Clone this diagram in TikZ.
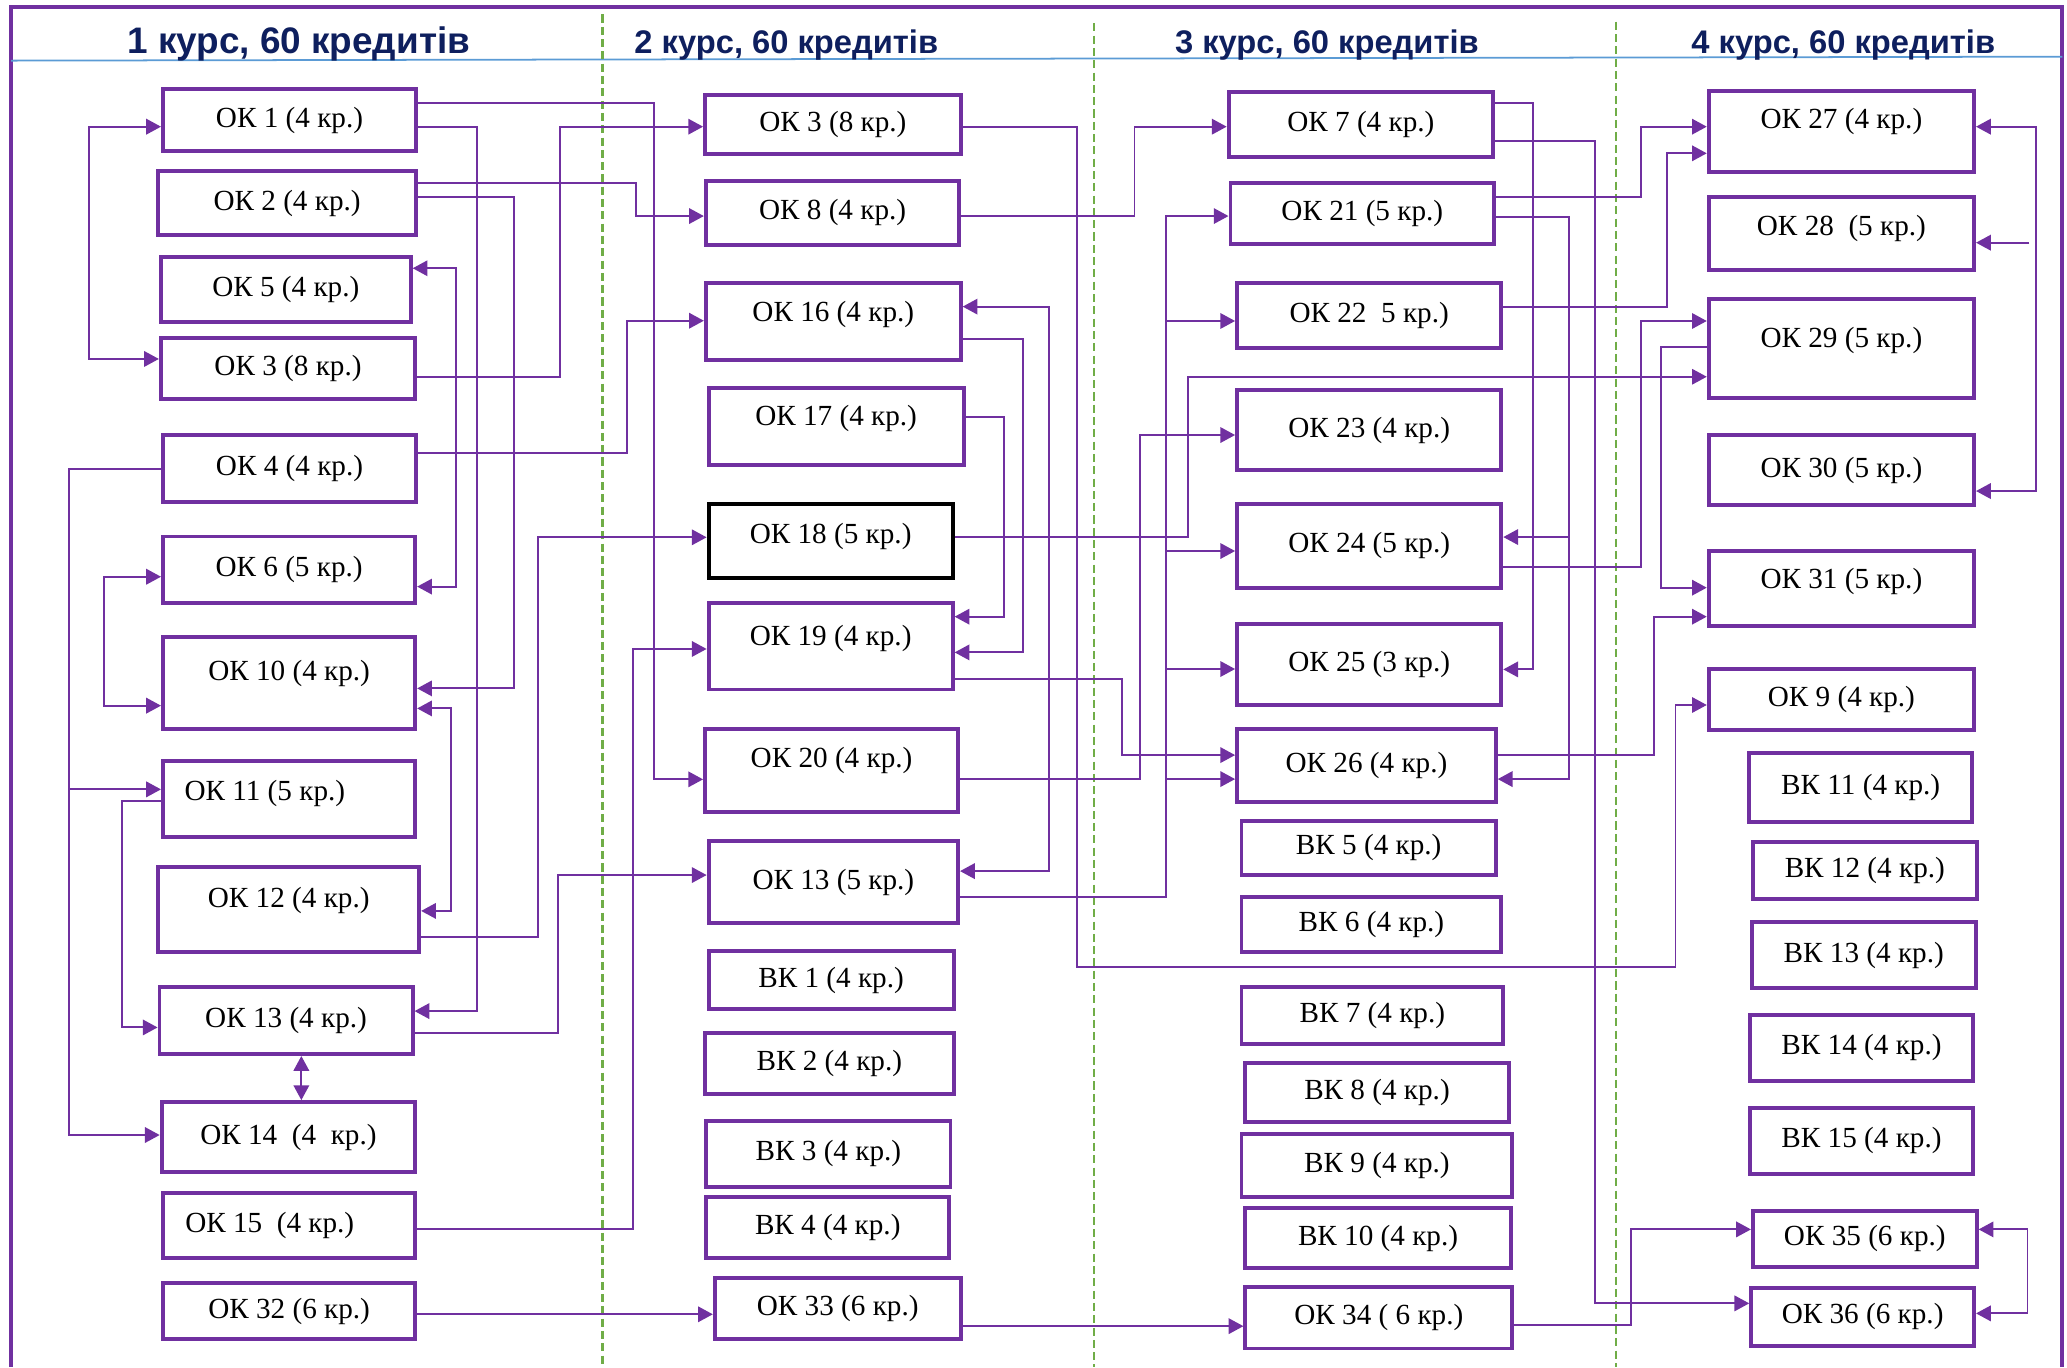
\documentclass[tikz,border=0pt]{standalone}
\usepackage{fontspec}
\setmainfont{Liberation Serif}
\newfontfamily\hdfont{Liberation Sans}
\usepackage{tikz}
\usetikzlibrary{arrows.meta,fit}
\definecolor{purplex}{HTML}{7030A0}
\definecolor{navyx}{HTML}{0E1F5E}
\definecolor{greenx}{HTML}{70AD47}
\definecolor{bluex}{HTML}{5B9BD5}
\tikzset{
  ar/.style={-{Triangle[length=4.2pt,width=4.4pt]},purplex,line width=0.55pt},
  br/.style={{Triangle[length=4.2pt,width=4.4pt]}-{Triangle[length=4.2pt,width=4.4pt]},purplex,line width=0.55pt},
  box/.style={draw=purplex,line width=1.1pt,inner sep=0pt},
  lbl/.style={label={center:#1}},
  every label/.style={font=\fontsize{8.3}{10}\selectfont,inner sep=0pt,text=black},
  hd/.style={anchor=base,text=navyx,font=\hdfont\bfseries\fontsize{9.3}{11}\selectfont},
  yr/.style={greenx,line width=0.6pt,dash pattern=on 2.3pt off 1.2pt}
}
\newcommand{\up}[2]{\raisebox{#1}[\height][\depth]{#2}}
\newcommand{\lf}[3]{\raisebox{#2}[\height][\depth]{\kern-#1#3\kern#1}}

\begin{document}
\begin{tikzpicture}[x=0.375pt,y=-0.375pt]
\useasboundingbox (0,0) rectangle (1568,1037);
% frame, header line, year separators
\draw[purplex,line width=1.1pt] (8.5,1037) -- (8.5,5.6) -- (1564.5,5.6) -- (1564.5,1037);
\draw[bluex,line width=0.5pt] (8.5,46) -- (1564.5,43);
\draw[yr] (457,11) -- (457,1037);
\draw[yr] (830,17.7) -- (830,1037);
\draw[yr] (1226,16.5) -- (1226,1037);
\node[hd,font=\hdfont\bfseries\fontsize{10.5}{12}\selectfont] (h1) at (226.6,40.5) {1 курс, 60 кредитів};
\node[hd] (h2) at (596.5,40.5) {2 курс, 60 кредитів};
\node[hd] (h3) at (1006.6,40.5) {3 курс, 60 кредитів};
\node[hd] (h4) at (1398.3,40.5) {4 курс, 60 кредитів};

% 1 курс
\node[box,fit={(123.6,67.8)(315.6,114.3)},lbl={ОК 1 (4 кр.)}] (ok1) {};
\node[box,fit={(120,129.5)(315.6,178.5)},lbl={ОК 2 (4 кр.)}] (ok2) {};
\node[box,fit={(122,195)(311.6,244)},lbl={ОК 5 (4 кр.)}] (ok5) {};
\node[box,fit={(122,256.7)(315,303)},lbl={ОК 3 (8 кр.)}] (ok3a) {};
\node[box,fit={(123.6,330)(315.6,380.6)},lbl={ОК 4 (4 кр.)}] (ok4) {};
\node[box,fit={(123.6,407)(315,457.7)},lbl={ОК 6 (5 кр.)}] (ok6) {};
\node[box,fit={(123.6,483)(315,553)},lbl={\up{2.6pt}{ОК 10 (4 кр.)}}] (ok10) {};
\node[box,fit={(123.6,577)(315,635)},lbl={\lf{6.9pt}{1.6pt}{ОК 11 (5 кр.)}}] (ok11) {};
\node[box,fit={(120,657.5)(318,722)},lbl={\up{2.6pt}{ОК 12 (4 кр.)}}] (ok12) {};
\node[box,fit={(121,749)(313,799.6)},lbl={ОК 13 (4 кр.)}] (ok13a) {};
\node[box,fit={(122.6,836)(315,889)},lbl={ОК 14~ (4~ кр.)}] (ok14) {};
\node[box,fit={(123.6,904.8)(315,954.6)},lbl={\lf{5.5pt}{0pt}{ОК 15~ (4 кр.)}}] (ok15) {};
\node[box,fit={(123.6,973)(315,1016)},lbl={ОК 32 (6 кр.)}] (ok32) {};

% 2 курс
\node[box,fit={(534.8,72)(728.8,116.8)},lbl={ОК 3 (8 кр.)}] (ok3b) {};
\node[box,fit={(535.4,137)(727.8,186)},lbl={ОК 8 (4 кр.)}] (ok8) {};
\node[box,fit={(535.4,215)(728.8,273)},lbl={\up{1.9pt}{ОК 16 (4 кр.)}}] (ok16) {};
\node[box,fit={(537.5,294.6)(731,352.7)},lbl={\up{2.3pt}{ОК 17 (4 кр.)}}] (ok17) {};
\node[box,draw=black,fit={(537.5,382.6)(722.7,438.2)},lbl={\up{1.3pt}{ОК 18 (5 кр.)}}] (ok18) {};
\node[box,fit={(537.5,457.2)(722.7,523)},lbl={\up{2.1pt}{ОК 19 (4 кр.)}}] (ok19) {};
\node[box,fit={(534.8,553.3)(726.8,615.8)},lbl={\up{3pt}{ОК 20 (4 кр.)}}] (ok20) {};
\node[box,fit={(537.5,638)(726.8,700.4)},lbl={ОК 13 (5 кр.)}] (ok13b) {};
\node[box,fit={(537.5,721.2)(723.4,765.7)},lbl={ВК 1 (4 кр.)}] (vk1) {};
\node[box,fit={(534.8,783.9)(723.4,830)},lbl={ВК 2 (4 кр.)}] (vk2) {};
\node[box,fit={(535.8,850.2)(721,900.2)},lbl={ВК 3 (4 кр.)}] (vk3) {};
\node[box,fit={(535.8,907.8)(720,954.6)},lbl={ВК 4 (4 кр.)}] (vk4) {};
\node[box,fit={(542.2,969.7)(728.8,1016)},lbl={ОК 33 (6 кр.)}] (ok33) {};

% 3 курс
\node[box,fit={(932,69.5)(1132.6,118.9)},lbl={ОК 7 (4 кр.)}] (ok7) {};
\node[box,fit={(933.4,138.6)(1133.4,185.3)},lbl={ОК 21 (5 кр.)}] (ok21) {};
\node[box,fit={(938.4,215)(1138.9,264.2)},lbl={ОК 22~ 5 кр.)}] (ok22) {};
\node[box,fit={(938.4,295.9)(1138.9,356.5)},lbl={ОК 23 (4 кр.)}] (ok23) {};
\node[box,fit={(938.4,382.3)(1138.9,445.8)},lbl={ОК 24 (5 кр.)}] (ok24) {};
\node[box,fit={(938.4,473.4)(1138.9,534.8)},lbl={ОК 25 (3 кр.)}] (ok25) {};
\node[box,fit={(938.4,553)(1134.7,608.2)},lbl={ОК 26 (4 кр.)}] (ok26) {};
\node[box,fit={(941.8,622.6)(1134.7,663.8)},lbl={ВК 5 (4 кр.)}] (vk5) {};
\node[box,fit={(941.8,680.2)(1138.9,722)},lbl={ВК 6 (4 кр.)}] (vk6) {};
\node[box,fit={(941.8,748.5)(1140.2,792)},lbl={ВК 7 (4 кр.)}] (vk7) {};
\node[box,fit={(944.7,806.2)(1144.4,850.9)},lbl={ВК 8 (4 кр.)}] (vk8) {};
\node[box,fit={(941.8,860.5)(1147.2,907.8)},lbl={ВК 9 (4 кр.)}] (vk9) {};
\node[box,fit={(944.7,916.6)(1146,962.2)},lbl={ВК 10 (4 кр.)}] (vk10) {};
\node[box,fit={(944.7,976)(1147.2,1022.9)},lbl={ОК 34 ( 6 кр.)}] (ok34) {};

% 4 курс
\node[box,fit={(1296.2,68.8)(1497.5,130.2)},lbl={\up{2.7pt}{ОК 27 (4 кр.)}}] (ok27) {};
\node[box,fit={(1296.2,149.2)(1497.5,204.8)},lbl={\up{1.5pt}{ОК 28~ (5 кр.)}}] (ok28) {};
\node[box,fit={(1296.2,227)(1497.5,302.2)},lbl={\up{2.5pt}{ОК 29 (5 кр.)}}] (ok29) {};
\node[box,fit={(1296.2,330)(1497.5,383.1)},lbl={ОК 30 (5 кр.)}] (ok30) {};
\node[box,fit={(1296.2,417.7)(1497.5,474.7)},lbl={\up{1.8pt}{ОК 31 (5 кр.)}}] (ok31) {};
\node[box,fit={(1296.2,507.5)(1497.5,553.8)},lbl={ОК 9 (4 кр.)}] (ok9) {};
\node[box,fit={(1326.8,571.5)(1496.2,623.3)},lbl={ВК 11 (4 кр.)}] (vk11) {};
\node[box,fit={(1329.7,639)(1499.5,682)},lbl={ВК 12 (4 кр.)}] (vk12) {};
\node[box,fit={(1328.9,699.7)(1498.7,749.7)},lbl={ВК 13 (4 кр.)}] (vk13) {};
\node[box,fit={(1327.6,770)(1496.6,819.8)},lbl={ВК 14 (4 кр.)}] (vk14) {};
\node[box,fit={(1327.6,840.3)(1496.6,890.6)},lbl={ВК 15 (4 кр.)}] (vk15) {};
\node[box,fit={(1329.7,918.4)(1499.5,961)},lbl={ОК 35 (6 кр.)}] (ok35) {};
\node[box,fit={(1328.4,976.8)(1497.5,1021)},lbl={ОК 36 (6 кр.)}] (ok36) {};

% branch points
\coordinate (b4) at (52.5,598.8);
\coordinate (b21) at (1190,407.4);
\coordinate (c22) at (884.6,243.5);
\coordinate (c24) at (884.6,418);
\coordinate (c25) at (884.6,507.5);
\coordinate (c26) at (884.6,591);
\coordinate (s28) at (1539.4,184.1);

% links from 1 курс
\draw[ar] (ok1.east|-0,77.9) -| (496,591.2) -- (ok20.west|-0,591.2);
\draw[ar] (ok1.east|-0,96.1) -| (361.7,767) -- (ok13a.east|-0,767);
\draw[br] (ok1.west|-0,96.1) -| (67.7,272.3) -- (ok3a.west|-0,272.3);
\draw[ar] (ok2.east|-0,138.6) -| (482.6,163.9) -- (ok8.west|-0,163.9);
\draw[ar] (ok2.east|-0,149.2) -| (390.1,522.2) -- (ok10.east|-0,522.2);
\draw[br] (ok5.east|-0,203.5) -| (346.1,445) -- (ok6.east|-0,445);
\draw[ar] (ok3a.east|-0,285.8) -| (425,96.1) -- (ok3b.west|-0,96.1);
\draw[ar] (ok4.east|-0,343.4) -| (475.3,243.3) -- (ok16.west|-0,243.3);
\draw[ar] (ok4.west|-0,355.8) -| (52.5,861) -- (ok14.west|-0,861);
\draw[ar] (b4) -- (ok11.west|-b4);
\draw[br] (ok6.west|-0,437.5) -| (78.9,535.3) -- (ok10.west|-0,535.3);
\draw[br] (ok10.east|-0,537.4) -| (342,691) -- (ok12.east|-0,691);
\draw[ar] (ok11.west|-0,607.7) -| (92.5,779.4) -- (ok13a.west|-0,779.4);
\draw[ar] (ok12.east|-0,710.6) -| (408.1,407.6) -- (ok18.west|-0,407.6);
\draw[ar] (ok13a.east|-0,783.4) -| (423.3,663.8) -- (ok13b.west|-0,663.8);
\draw[br] (ok13a.south-|228.6,0) -- (ok14.north-|228.6,0);
\draw[ar] (ok15.east|-0,932.3) -| (480.4,492.3) -- (ok19.west|-0,492.3);
\draw[ar] (ok32.east|-0,997) -- (ok33.west|-0,997);

% links from 2 курс
\draw[ar] (ok3b.east|-0,96.1) -| (816.9,733.3) -| (1271,534.8) -- (ok9.west|-0,534.8);
\draw[ar] (ok8.east|-0,163.9) -| (860.6,96.1) -- (ok7.west|-0,96.1);
\draw[br] (ok16.east|-0,232.6) -| (795.6,660.8) -- (ok13b.east|-0,660.8);
\draw[ar] (ok16.east|-0,257.2) -| (775.9,494.9) -- (ok19.east|-0,494.9);
\draw[ar] (ok17.east|-0,316.1) -| (761.6,467.8) -- (ok19.east|-0,467.8);
\draw[ar] (ok18.east|-0,407.1) -| (901.5,285.8) -- (ok29.west|-0,285.8);
\draw[ar] (ok19.east|-0,515.1) -| (851.4,572.8) -- (ok26.west|-0,572.8);
\draw[ar] (ok20.east|-0,591) -| (865,330) -- (ok23.west|-0,330);
\draw[ar] (ok13b.east|-0,680.2) -| (884.6,163.9) -- (ok21.west|-0,163.9);
\draw[ar] (c22) -- (ok22.west|-c22);
\draw[ar] (c24) -- (ok24.west|-c24);
\draw[ar] (c25) -- (ok25.west|-c25);
\draw[ar] (c26) -- (ok26.west|-c26);
\draw[ar] (ok33.east|-0,1006) -- (ok34.west|-0,1006);

% links from 3 курс
\draw[ar] (ok7.east|-0,77.9) -| (1163.2,507.8) -- (ok25.east|-0,507.8);
\draw[ar] (ok7.east|-0,107) -| (1210.2,988.7) -- (ok36.west|-0,988.7);
\draw[ar] (ok21.east|-0,149.7) -| (1245,96.1) -- (ok27.west|-0,96.1);
\draw[ar] (ok21.east|-0,164.9) -| (1190,591) -- (ok26.east|-0,591);
\draw[ar] (b21) -- (ok24.east|-b21);
\draw[ar] (ok22.east|-0,232.6) -| (1264.7,116.3) -- (ok27.west|-0,116.3);
\draw[ar] (ok24.east|-0,429.9) -| (1244.6,243.5) -- (ok29.west|-0,243.5);
\draw[ar] (ok26.east|-0,572.8) -| (1255,467.8) -- (ok31.west|-0,467.8);
\draw[ar] (ok29.west|-0,263) -| (1259.7,445.8) -- (ok31.west|-0,445.8);
\draw[ar] (ok34.east|-0,1005.2) -| (1237.4,932.6) -- (ok35.west|-0,932.6);

% 4 курс
\draw[br] (ok27.east|-0,96.1) -| (1544.8,372.5) -- (ok30.east|-0,372.5);
\draw[ar] (s28) -- (ok28.east|-s28);
\draw[br] (ok35.east|-0,932.6) -| (1538,996.3) -- (ok36.east|-0,996.3);
\end{tikzpicture}
\end{document}
